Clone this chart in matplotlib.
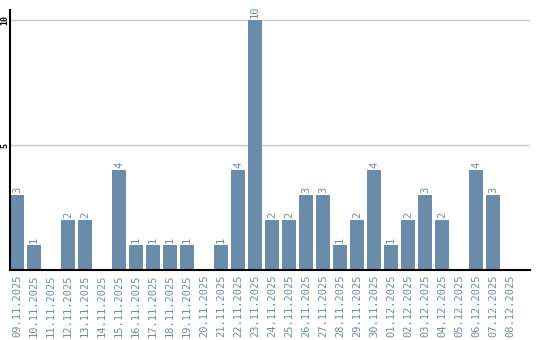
import numpy as np
import matplotlib
matplotlib.use('Agg')
import matplotlib.pyplot as plt

dates = ["09.11.2025", "10.11.2025", "11.11.2025", "12.11.2025", "13.11.2025",
         "14.11.2025", "15.11.2025", "16.11.2025", "17.11.2025", "18.11.2025",
         "19.11.2025", "20.11.2025", "21.11.2025", "22.11.2025", "23.11.2025",
         "24.11.2025", "25.11.2025", "26.11.2025", "27.11.2025", "28.11.2025",
         "29.11.2025", "30.11.2025", "01.12.2025", "02.12.2025", "03.12.2025",
         "04.12.2025", "05.12.2025", "06.12.2025", "07.12.2025", "08.12.2025"]
counts = [3, 1, 0, 2, 2, 0, 4, 1, 1, 1, 1, 0, 1, 4, 10,
          2, 2, 3, 3, 1, 2, 4, 1, 2, 3, 2, 0, 4, 3, 0]
yticks = [5, 10]

BAR = "#6b8bab"
MONO = "DejaVu Sans Mono"

fig = plt.figure(figsize=(5.4, 3.4), dpi=100)
ax = fig.add_axes([10/540, 1 - 270/340, 520/540, 260/340])

x = np.arange(len(dates))
ax.bar(x, counts, width=14/17, color=BAR, zorder=2)
for xi, v in zip(x, counts):
    if v > 0:
        ax.text(xi, v + 0.08, str(v), rotation=90, ha="center", va="bottom",
                fontsize=7.5, color=BAR, family=MONO)

ax.set_xlim(-7/17, -7/17 + 520/17)
ax.set_ylim(0, 10.4)
ax.set_yticks(yticks)
ax.set_yticklabels([str(t) for t in yticks], rotation=90, va="center",
                   fontsize=6, family=MONO, fontweight="bold")
ax.set_xticks(x)
ax.set_xticklabels(dates, rotation=90, fontsize=7.5, color=BAR, family=MONO)
ax.tick_params(length=0, pad=3)
ax.tick_params(axis="y", pad=0.5)
ax.grid(axis="y", color="#c8c8c8", lw=1, zorder=0)
for s in ["top", "right"]:
    ax.spines[s].set_visible(False)
for s in ["left", "bottom"]:
    ax.spines[s].set_linewidth(1.5)
    ax.spines[s].set_color("black")

fig.savefig("out.png", dpi=100)
